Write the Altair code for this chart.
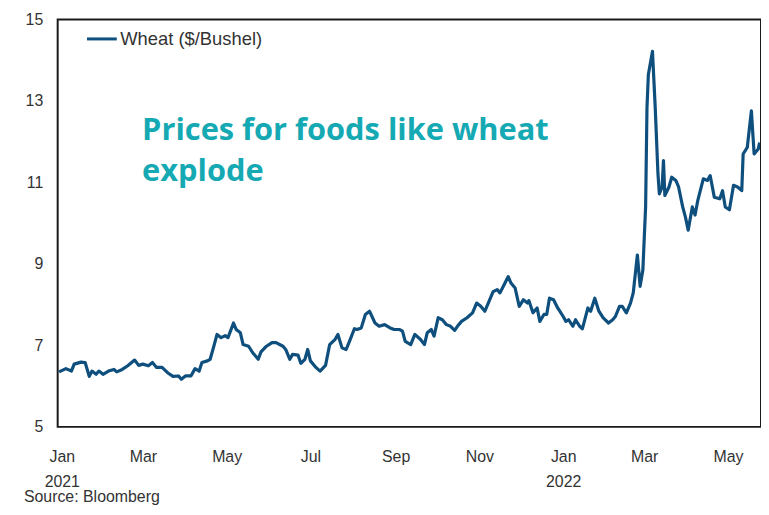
import altair as alt
import pandas as pd

dates = [
    "2020-12-30", "2021-01-04", "2021-01-08", "2021-01-10", "2021-01-15", "2021-01-18",
    "2021-01-21", "2021-01-23", "2021-01-26", "2021-01-28", "2021-01-31", "2021-02-04",
    "2021-02-08", "2021-02-10", "2021-02-14", "2021-02-18", "2021-02-23", "2021-02-26",
    "2021-03-01", "2021-03-05", "2021-03-08", "2021-03-11", "2021-03-15", "2021-03-19",
    "2021-03-23", "2021-03-27", "2021-03-29", "2021-04-01", "2021-04-05", "2021-04-08",
    "2021-04-11", "2021-04-13", "2021-04-17", "2021-04-19", "2021-04-22", "2021-04-24",
    "2021-04-27", "2021-04-30", "2021-05-02", "2021-05-06", "2021-05-08", "2021-05-11",
    "2021-05-13", "2021-05-17", "2021-05-20", "2021-05-24", "2021-05-26", "2021-05-30",
    "2021-06-03", "2021-06-06", "2021-06-11", "2021-06-13", "2021-06-16", "2021-06-18",
    "2021-06-22", "2021-06-24", "2021-06-27", "2021-06-29", "2021-07-01", "2021-07-05",
    "2021-07-08", "2021-07-12", "2021-07-15", "2021-07-19", "2021-07-21", "2021-07-24",
    "2021-07-27", "2021-07-30", "2021-08-02", "2021-08-04", "2021-08-07", "2021-08-10",
    "2021-08-13", "2021-08-17", "2021-08-20", "2021-08-24", "2021-08-28", "2021-08-31",
    "2021-09-04", "2021-09-06", "2021-09-08", "2021-09-12", "2021-09-15", "2021-09-19",
    "2021-09-22", "2021-09-24", "2021-09-27", "2021-09-29", "2021-10-02", "2021-10-05",
    "2021-10-08", "2021-10-11", "2021-10-14", "2021-10-16", "2021-10-19", "2021-10-23",
    "2021-10-27", "2021-10-30", "2021-11-02", "2021-11-05", "2021-11-08", "2021-11-11",
    "2021-11-14", "2021-11-16", "2021-11-19", "2021-11-22", "2021-11-24", "2021-11-27",
    "2021-11-30", "2021-12-03", "2021-12-06", "2021-12-07", "2021-12-10", "2021-12-13",
    "2021-12-15", "2021-12-18", "2021-12-20", "2021-12-22", "2021-12-25", "2021-12-28",
    "2022-01-01", "2022-01-03", "2022-01-05", "2022-01-08", "2022-01-10", "2022-01-13",
    "2022-01-15", "2022-01-19", "2022-01-21", "2022-01-24", "2022-01-27", "2022-01-30",
    "2022-02-03", "2022-02-06", "2022-02-08", "2022-02-11", "2022-02-13", "2022-02-16",
    "2022-02-19", "2022-02-21", "2022-02-24", "2022-02-26", "2022-02-28", "2022-03-02",
    "2022-03-03", "2022-03-04", "2022-03-07", "2022-03-09", "2022-03-11", "2022-03-12",
    "2022-03-14", "2022-03-15", "2022-03-16", "2022-03-19", "2022-03-21", "2022-03-24",
    "2022-03-26", "2022-03-29", "2022-03-31", "2022-04-02", "2022-04-05", "2022-04-07",
    "2022-04-09", "2022-04-13", "2022-04-16", "2022-04-18", "2022-04-21", "2022-04-25",
    "2022-04-27", "2022-04-29", "2022-05-02", "2022-05-05", "2022-05-08", "2022-05-11",
    "2022-05-12", "2022-05-15", "2022-05-18", "2022-05-20", "2022-05-23", "2022-05-24",
]

wheat = [
    6.35, 6.43, 6.37, 6.54, 6.59, 6.58,
    6.24, 6.37, 6.29, 6.37, 6.29, 6.37,
    6.41, 6.35, 6.41, 6.50, 6.64, 6.51,
    6.54, 6.50, 6.58, 6.46, 6.46, 6.33,
    6.24, 6.25, 6.17, 6.25, 6.25, 6.43,
    6.37, 6.58, 6.62, 6.66, 7.02, 7.27,
    7.19, 7.24, 7.19, 7.55, 7.39, 7.31,
    7.02, 6.98, 6.82, 6.66, 6.84, 6.98,
    7.07, 7.07, 6.98, 6.90, 6.66, 6.78,
    6.76, 6.56, 6.66, 6.90, 6.62, 6.46,
    6.37, 6.51, 7.02, 7.15, 7.27, 6.94,
    6.90, 7.15, 7.41, 7.39, 7.43, 7.76,
    7.84, 7.55, 7.47, 7.51, 7.43, 7.39,
    7.39, 7.35, 7.10, 7.02, 7.27, 7.15,
    7.02, 7.31, 7.39, 7.23, 7.68, 7.63,
    7.51, 7.47, 7.37, 7.47, 7.59, 7.68,
    7.80, 8.04, 7.96, 7.84, 8.08, 8.32,
    8.37, 8.29, 8.49, 8.69, 8.53, 8.41,
    7.96, 8.12, 8.04, 8.10, 7.80, 7.92,
    7.59, 7.76, 7.76, 8.16, 8.12, 7.92,
    7.71, 7.59, 7.63, 7.47, 7.63, 7.47,
    7.41, 7.92, 7.84, 8.16, 7.84, 7.68,
    7.55, 7.63, 7.71, 7.96, 7.96, 7.80,
    8.04, 8.29, 9.22, 8.45, 8.85, 10.40,
    12.84, 13.65, 14.22, 12.84, 11.21, 10.72,
    10.89, 11.54, 10.68, 10.89, 11.13, 11.05,
    10.89, 10.40, 10.15, 9.83, 10.40, 10.20,
    10.56, 11.09, 11.05, 11.17, 10.64, 10.60,
    10.80, 10.40, 10.33, 10.93, 10.89, 10.80,
    11.70, 11.86, 12.76, 11.70, 11.82, 11.98,
]

series_name = "Wheat ($/Bushel)"
y_ticks = [5, 7, 9, 11, 13, 15]
x_tick_months = [(2021, 1), (2021, 3), (2021, 5), (2021, 7), (2021, 9), (2021, 11),
                 (2022, 1), (2022, 3), (2022, 5)]
x_start, x_end = "2020-12-29", "2022-05-25"
y_min, y_max = 5, 15
annotation = ["Prices for foods like wheat", "explode"]
source_text = "Source: Bloomberg"

df = pd.DataFrame({"date": dates, "value": wheat, "series": series_name})
frame_df = pd.DataFrame({"x0": [x_start], "x1": [x_end], "y0": [y_min], "y1": [y_max]})

LINE = "#0E4F7E"
TEAL = "#15A9B3"
TXT = "#333333"
FRAME = "#1a1a1a"
W, H = 708, 410

x_scale = alt.Scale(type="utc",
                    domain=[alt.DateTime(year=2020, month=12, date=29, utc=True),
                            alt.DateTime(year=2022, month=5, date=25, utc=True)])
y_scale = alt.Scale(domain=[y_min, y_max], nice=False)

x_enc = alt.X(
    "date:T", scale=x_scale,
    axis=alt.Axis(
        title=None,
        values=[alt.DateTime(year=y, month=m, date=1, utc=True) for y, m in x_tick_months],
        labelExpr="utcFormat(datum.value, '%m') == '01' ? [utcFormat(datum.value, '%b'), utcFormat(datum.value, '%Y')] : utcFormat(datum.value, '%b')",
        ticks=False, domain=False, grid=False,
        labelPadding=22, labelFontSize=16, labelLineHeight=25,
        labelColor=TXT, labelFont="Liberation Sans",
    ),
)
y_enc = alt.Y(
    "value:Q", scale=y_scale,
    axis=alt.Axis(
        title=None, values=y_ticks, ticks=False, domain=False, grid=False,
        labelPadding=15, labelFontSize=16, labelColor=TXT, labelFont="Liberation Sans",
    ),
)

frame = alt.Chart(frame_df).mark_rect(
    fill="transparent", stroke=FRAME, strokeWidth=2
).encode(
    x=alt.X("x0:T", scale=x_scale),
    x2="x1:T",
    y=alt.Y("y0:Q", scale=y_scale),
    y2="y1:Q",
)

line = alt.Chart(df).mark_line(strokeWidth=3.2, strokeJoin="round").encode(
    x=x_enc,
    y=y_enc,
    color=alt.Color(
        "series:N",
        scale=alt.Scale(range=[LINE]),
        legend=alt.Legend(
            title=None, orient="none", legendX=28, legendY=3,
            symbolType="stroke", symbolSize=900, symbolStrokeWidth=3,
            labelFontSize=18.5, labelFont="Liberation Sans", labelColor=TXT,
            labelOffset=2,
        ),
    ),
)

ann = alt.Chart(pd.DataFrame({"t": [annotation]})).mark_text(
    align="left", baseline="alphabetic", font="Open Sans", fontWeight="bold",
    fontSize=31, lineHeight=42, color=TEAL,
).encode(x=alt.value(85), y=alt.value(121), text="t:N")

src = alt.Chart(pd.DataFrame({"t": [source_text]})).mark_text(
    align="left", baseline="alphabetic", font="Liberation Sans",
    fontSize=16, color=TXT,
).encode(x=alt.value(-34), y=alt.value(H + 76), text="t:N")

chart = alt.layer(line, frame, ann, src).properties(
    width=W, height=H,
    autosize=alt.AutoSizeParams(type="none"),
    padding={"left": 50, "top": 10, "right": 0, "bottom": 78},
).configure(background="white").configure_view(stroke=None)

chart.save("out.html", embed_options={"renderer": "svg", "actions": False})
